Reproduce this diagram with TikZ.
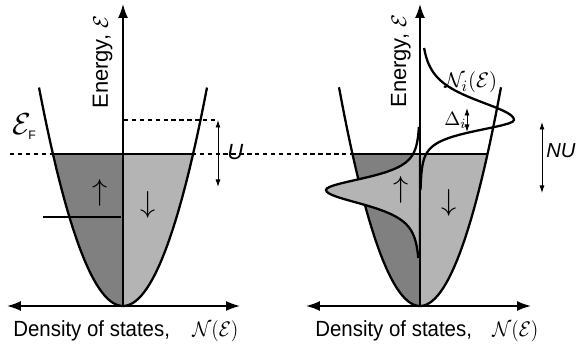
\documentclass[tikz,border=0pt]{standalone}
\usepackage{graphicx}
\usepackage{fontspec}
\setmainfont{Liberation Sans}
\usetikzlibrary{arrows.meta,positioning,calc}
\definecolor{darkgrey}{RGB}{128,128,128}
\definecolor{lightgrey}{RGB}{180,180,180}
\newcommand{\narrowtext}[1]{\scalebox{0.93}[1]{#1}}

\begin{document}
\begin{tikzpicture}[x=0.02cm, y=-0.02cm,
        axis/.style={line width=0.9pt, -{Latex[length=2.8mm,width=2mm]}},
        dosaxis/.style={line width=0.9pt, {Latex[length=2.8mm,width=2mm]}-{Latex[length=2.8mm,width=2mm]}},
        band/.style={line width=1.3pt},
        level/.style={line width=1.2pt},
        guide/.style={line width=0.6pt, dash pattern=on 2.5pt off 2pt},
        gap/.style={line width=0.5pt, {Latex[length=1.5mm,width=1mm]}-{Latex[length=1.5mm,width=1mm]}},
        lbl/.style={font=\fontsize{12.5}{14}\selectfont, inner sep=0pt},
        spin/.style={font=\fontsize{17}{17}\selectfont, inner sep=0pt}
    ]
    \useasboundingbox (0,0) rectangle (576,344);

    % left panel: Stoner band
    \fill[darkgrey] plot[domain=-70:0, samples=40] ({123+\x},{306-\x*\x/32.3}) -- (123,154) -- cycle;
    \fill[lightgrey] plot[domain=0:70, samples=40] ({123+\x},{306-\x*\x/32.3}) -- (123,154) -- cycle;
    % right panel
    \fill[darkgrey] plot[domain=-67.5:0, samples=40] ({420+\x},{306-\x*\x/30}) -- (420,154) -- cycle;
    \fill[lightgrey] plot[domain=0:67.5, samples=40] ({420+\x},{306-\x*\x/30}) -- (420,154) -- cycle;

    \coordinate (fermiA) at (10,154);
    \coordinate (fermiB) at (353,154);
    \draw[guide] (fermiA) -- (fermiB);

    \draw[band] plot[domain=-84:84, samples=60] ({123+\x},{306-\x*\x/32.3});
    \draw[band] plot[domain=-81:81, samples=60] ({420+\x},{306-\x*\x/30});

    % impurity levels
    \begin{scope}
        \clip (300,154) rectangle (420,300);
        \fill[lightgrey] plot[domain=-63:0, samples=40] ({420-94/(1+(\x/22)^2)^2},{190+\x})
            -- plot[domain=0:68, samples=40] ({420-94/(1+(\x/27)^2)^2},{190+\x}) -- cycle;
    \end{scope}
    \draw[band] plot[domain=-63:0, samples=40] ({420-94/(1+(\x/22)^2)^2},{190+\x})
        -- plot[domain=0:68, samples=40] ({420-94/(1+(\x/27)^2)^2},{190+\x});
    \draw[band] plot[domain=-72:0, samples=40] ({420+94/(1+(\x/37)^2)^2},{120+\x})
        -- plot[domain=0:70, samples=40] ({420+94/(1+(\x/20)^2)^2},{120+\x});

    % Fermi levels
    \coordinate (efLa) at (53,154);
    \coordinate (efLb) at (193,154);
    \coordinate (efRa) at (352,154);
    \coordinate (efRb) at (487,154);
    \draw[level] (efLa) -- (efLb);
    \draw[level] (efRa) -- (efRb);

    \coordinate (upbarA) at (43,217);
    \coordinate (upbarB) at (121,217);
    \draw[level] (upbarA) -- (upbarB);
    \coordinate (shiftA) at (124,120);
    \coordinate (shiftB) at (218,120);
    \draw[guide] (shiftA) -- (shiftB);

    % axes
    \coordinate (oL) at (123,306);
    \coordinate (topL) at (123,4);
    \coordinate (leftL) at (7,306);
    \coordinate (rightL) at (240,306);
    \coordinate (oR) at (420,306);
    \coordinate (topR) at (420,4);
    \coordinate (leftR) at (306,306);
    \coordinate (rightR) at (531,306);
    \draw[axis] (oL) -- (topL);
    \draw[dosaxis] (leftL) -- (rightL);
    \draw[axis] (oR) -- (topR);
    \draw[dosaxis] (leftR) -- (rightR);

    % splittings
    \coordinate (uTop) at (218,120);
    \coordinate (uBot) at (218,187);
    \draw[gap] (uTop) -- (uBot);
    \coordinate (nuTop) at (542,122);
    \coordinate (nuBot) at (542,193);
    \draw[gap] (nuTop) -- (nuBot);
    \coordinate (dTop) at (467,108);
    \coordinate (dBot) at (467,132);
    \draw[gap] (dTop) -- (dBot);

    % labels
    \node[lbl, anchor=base west, rotate=90] (energyL) at (108,109) {Energy, $\mathcal{E}$};
    \node[lbl, anchor=base west, rotate=90] (energyR) at (406,108) {Energy, $\mathcal{E}$};
    \node[lbl, anchor=base west] (dosL) at (13,337) {\narrowtext{Density of states,}};
    \node[lbl, anchor=base west] (nL) at (192,337) {\narrowtext{$\mathcal{N}(\mathcal{E})$}};
    \node[lbl, anchor=base west] (dosR) at (315,337) {\narrowtext{Density of states,}};
    \node[lbl, anchor=base west] (nR) at (492,337) {\narrowtext{$\mathcal{N}(\mathcal{E})$}};
    \node[lbl, anchor=base west, font=\fontsize{16}{18}\selectfont] (fermi) at (12,135) {$\mathcal{E}_{\mbox{\fontsize{7}{8}\selectfont F}}$};
    \node[lbl, anchor=base west] (ulbl) at (227,160) {\textit{U}};
    \node[lbl, anchor=base west, font=\fontsize{11.5}{14}\selectfont] (nulbl) at (546,158) {\textit{NU}};
    \node[lbl, anchor=base west] (nilbl) at (444,88) {$\mathcal{N}_i(\mathcal{E})$};
    \node[lbl, anchor=base west, font=\fontsize{11}{12}\selectfont] (dlbl) at (444,126) {$\Delta_i$};
    \node[spin] (upL) at (100,193) {$\uparrow$};
    \node[spin] (downL) at (148,205) {$\downarrow$};
    \node[spin] (upR) at (401,190) {$\uparrow$};
    \node[spin] (downR) at (449,203) {$\downarrow$};
\end{tikzpicture}
\end{document}
